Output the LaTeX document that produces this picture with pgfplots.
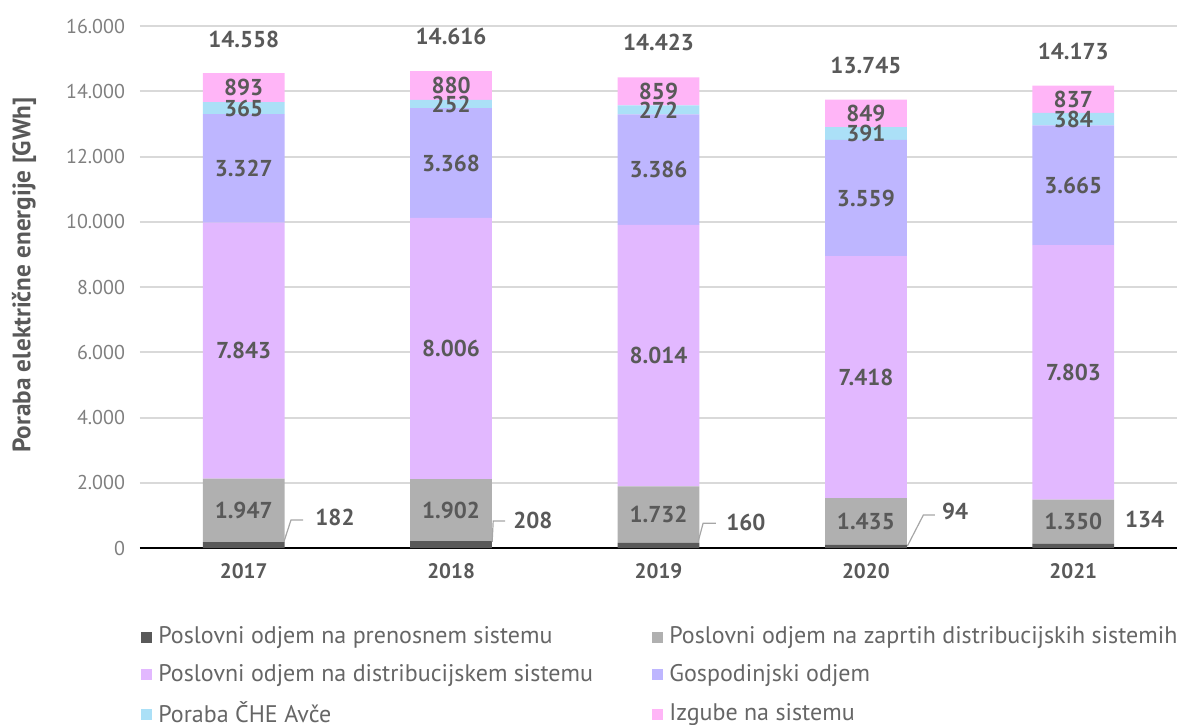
\documentclass[border=0pt]{standalone}
\usepackage{fontspec}
\setmainfont{PT Sans}
\usepackage{pgfplots}
\pgfplotsset{compat=1.18}
\definecolor{c1}{HTML}{595959}
\definecolor{c2}{HTML}{B0B0B0}
\definecolor{c3}{HTML}{E2B8FF}
\definecolor{c4}{HTML}{BEB6FF}
\definecolor{c5}{HTML}{ABE0F7}
\definecolor{c6}{HTML}{FFB5F7}
\definecolor{txt}{HTML}{595959}
\definecolor{ticktxt}{HTML}{7F7F7F}
\definecolor{gridc}{HTML}{D9D9D9}
\definecolor{legtxt}{HTML}{666666}
\definecolor{leader}{HTML}{A6A6A6}

\pgfplotstableread{
x y lab
0 1155.5 1.947
0 6050.5 7.843
0 11635.5 3.327
0 13481.5 365
0 14110.5 893
1 1159 1.902
1 6113 8.006
1 11800 3.368
1 13610 252
1 14176 880
2 1026 1.732
2 5899 8.014
2 11599 3.386
2 13428 272
2 13993.5 859
3 811.5 1.435
3 5238 7.418
3 10726.5 3.559
3 12701.5 391
3 13321.5 849
4 809 1.350
4 5385.5 7.803
4 11119.5 3.665
4 13144 384
4 13754.5 837
}\seglabels

\pgfplotstableread{
x y lab
0 15600 14.558
1 15675 14.616
2 15490 14.423
3 14785 13.745
4 15215 14.173
}\totlabels

\pgfplotstableread{
x y lab
0.344 950 182
1.298 858 208
2.325 776 160
3.365 1113 94
4.248 880 134
}\smalllabels

\begin{document}
\begin{tikzpicture}
\path[use as bounding box] (-70pt,-88pt) rectangle (528.5pt,274pt);
\begin{axis}[
  at={(0,0)}, anchor=south west,
  scale only axis, width=518.5pt, height=261pt,
  xmin=-0.5, xmax=4.5, ymin=0, ymax=16000,
  ybar stacked, bar width=0.394,
  axis x line*=bottom, axis y line*=left,
  y axis line style={draw=none},
  x axis line style={line width=0.9pt, black, -},
  ytick={0,2000,...,16000},
  ytick style={draw=none},
  ymajorgrids, grid style={gridc, line width=1pt},
  yticklabel style={color=ticktxt, font=\fontsize{10}{12}\selectfont, xshift=-4pt,
    /pgf/number format/.cd, 1000 sep={.}, assume math mode=true},
  scaled y ticks=false,
  xtick={0,1,2,3,4},
  xticklabels={2017,2018,2019,2020,2021},
  xtick style={draw=none},
  xticklabel style={color=txt, font=\bfseries\fontsize{10.5}{12}\selectfont, yshift=-4pt},
  extra x ticks={-0.5,0.5,1.5,2.5,3.5,4.5},
  extra x tick labels={},
  extra x tick style={tick style={draw=black, line width=0.9pt}, major tick length=3pt, tick align=outside},
  ylabel={Poraba električne energije [GWh]},
  every axis y label/.style={at={(axis description cs:-0.1118,0.523)}, rotate=90, anchor=center,
    font=\bfseries\fontsize{12.6}{14}\selectfont, color=txt},
  legend columns=2,
  legend cell align=left,
  legend image code/.code={\fill[#1, draw=none] (0pt,-3.2pt) rectangle (5.5pt,2.3pt);},
  legend style={at={(axis description cs:0,0)}, anchor=north west, xshift=-2.5pt, yshift=-35pt,
    draw=none, fill=none, font=\fontsize{12}{13}\selectfont, text=legtxt,
    row sep=4.8pt, /tikz/every even column/.append style={column sep=0pt},
    /tikz/every odd column/.append style={column sep=1pt}},
]
\addplot[fill=c1, draw=none] coordinates {(0,182) (1,208) (2,160) (3,94) (4,134)};
\addlegendentry{\makebox[245pt][l]{Poslovni odjem na prenosnem sistemu}}
\addplot[fill=c2, draw=none] coordinates {(0,1947) (1,1902) (2,1732) (3,1435) (4,1350)};
\addlegendentry{Poslovni odjem na zaprtih distribucijskih sistemih}
\addplot[fill=c3, draw=none] coordinates {(0,7843) (1,8006) (2,8014) (3,7418) (4,7803)};
\addlegendentry{\makebox[245pt][l]{Poslovni odjem na distribucijskem sistemu}}
\addplot[fill=c4, draw=none] coordinates {(0,3327) (1,3368) (2,3386) (3,3559) (4,3665)};
\addlegendentry{Gospodinjski odjem}
\addplot[fill=c5, draw=none] coordinates {(0,365) (1,252) (2,272) (3,391) (4,384)};
\addlegendentry{\makebox[245pt][l]{Poraba ČHE Avče}}
\addplot[fill=c6, draw=none] coordinates {(0,893) (1,880) (2,859) (3,849) (4,837)};
\addlegendentry{Izgube na sistemu}
\end{axis}
\begin{axis}[
  at={(0,0)}, anchor=south west,
  scale only axis, width=518.5pt, height=261pt,
  xmin=-0.5, xmax=4.5, ymin=0, ymax=16000,
  hide axis, clip=false,
]
\addplot[only marks, mark=none, nodes near coords, point meta=explicit symbolic,
  every node near coord/.append style={anchor=center, inner sep=0pt, color=txt,
    font=\bfseries\fontsize{11.5}{12}\selectfont}]
  table[x=x, y=y, meta=lab] {\seglabels};
\addplot[only marks, mark=none, nodes near coords, point meta=explicit symbolic,
  every node near coord/.append style={anchor=center, inner sep=0pt, color=txt,
    font=\bfseries\fontsize{11.5}{12}\selectfont}]
  table[x=x, y=y, meta=lab] {\totlabels};
\addplot[only marks, mark=none, nodes near coords, point meta=explicit symbolic,
  every node near coord/.append style={anchor=west, inner sep=0pt, color=txt,
    font=\bfseries\fontsize{11.5}{12}\selectfont}]
  table[x=x, y=y, meta=lab] {\smalllabels};
\addplot[leader, line width=0.6pt, mark=none] coordinates {(0.194,193) (0.228,858) (0.286,858)};
\addplot[leader, line width=0.6pt, mark=none] coordinates {(1.198,190) (1.203,828) (1.26,828)};
\addplot[leader, line width=0.6pt, mark=none] coordinates {(2.191,193) (2.215,757) (2.277,757)};
\addplot[leader, line width=0.6pt, mark=none] coordinates {(3.20,61) (3.277,1011) (3.333,1011)};
\end{axis}
\end{tikzpicture}
\end{document}
